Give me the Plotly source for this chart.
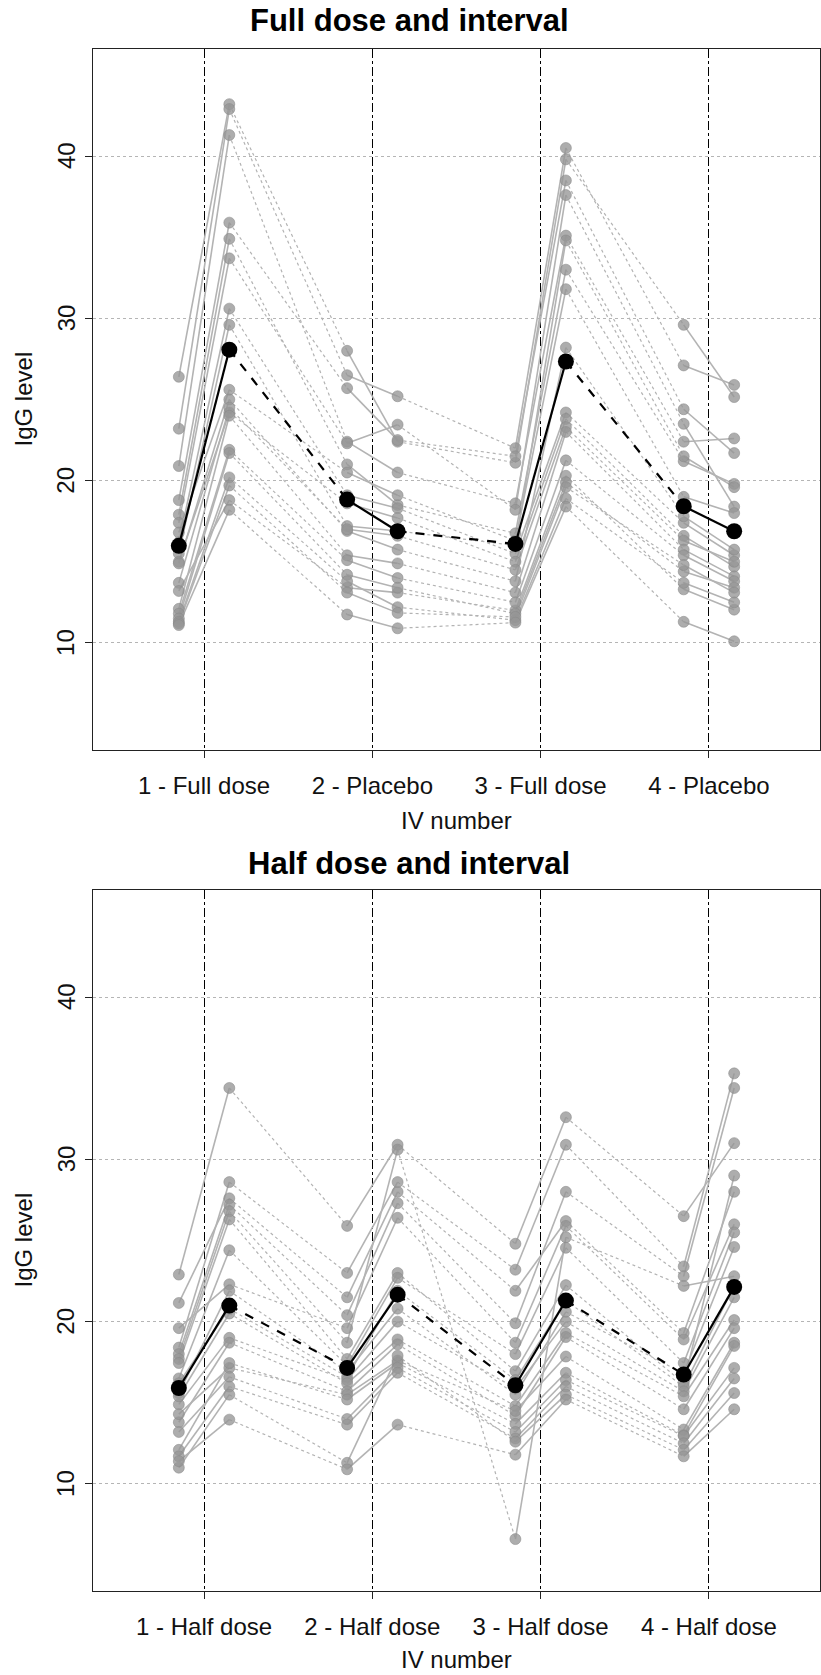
import plotly.graph_objects as go

# ---------------- data (IgG level) ----------------
IV_NUMBERS = [1, 2, 3, 4]
LABELS_FULL = ["1 - Full dose", "2 - Placebo", "3 - Full dose", "4 - Placebo"]
LABELS_HALF = ["1 - Half dose", "2 - Half dose", "3 - Half dose", "4 - Half dose"]
Y_TICKS = [10, 20, 30, 40]

# Full dose and interval arm (one entry per subject, same order in every list)
full_iv1_pre = [26.4, 23.2, 20.9, 18.8, 17.9, 17.4, 16.8, 16.2, 15.5, 15.0, 14.9, 13.7, 13.2, 12.1, 11.8, 11.5, 11.3, 11.2, 11.1]
full_iv1_post = [43.2, 42.9, 41.3, 35.9, 34.9, 33.7, 25.6, 30.6, 29.6, 24.2, 25.0, 24.5, 18.8, 24.0, 21.9, 21.7, 20.2, 19.7, 18.2]
full_iv2_pre = [28.0, 26.5, 22.4, 25.7, 21.0, 22.3, 20.5, 19.1, 17.2, 18.6, 16.9, 17.0, 13.4, 15.4, 15.1, 14.2, 13.8, 13.1, 11.75]
full_iv2_post = [22.4, 25.2, 20.5, 22.5, 18.5, 23.45, 19.1, 18.3, 16.9, 17.7, 15.75, 16.6, 13.1, 14.9, 14.0, 13.4, 12.2, 11.85, 10.9]
full_iv3_pre = [21.1, 22.0, 18.6, 21.5, 16.75, 18.2, 16.3, 15.5, 16.0, 15.0, 13.8, 14.5, 12.0, 13.1, 12.5, 11.8, 11.4, 11.6, 11.25]
full_iv3_post = [39.8, 40.5, 35.1, 38.5, 33.0, 37.6, 31.8, 24.2, 34.8, 23.8, 28.2, 23.3, 20.3, 23.0, 21.25, 19.9, 18.9, 19.6, 18.4]
full_iv4_pre = [29.6, 27.1, 22.4, 24.4, 21.2, 23.5, 19.0, 17.4, 21.5, 16.6, 17.8, 16.3, 13.3, 15.75, 15.4, 14.4, 13.7, 14.8, 11.3]
full_iv4_post = [25.15, 25.9, 22.6, 21.7, 19.8, 18.4, 18.0, 15.4, 19.6, 14.7, 15.75, 15.0, 12.05, 14.1, 13.8, 13.4, 12.5, 13.1, 10.1]
full_mean = [15.98, 28.07, 18.83, 16.88, 16.1, 27.34, 18.42, 16.88]

# Half dose and interval arm
half_iv1_pre = [22.9, 21.15, 18.4, 19.6, 18.0, 17.7, 17.45, 16.5, 15.6, 16.2, 14.9, 15.4, 13.8, 14.3, 12.1, 13.2, 11.7, 11.0, 11.4]
half_iv1_post = [34.4, 27.6, 28.6, 22.3, 27.2, 26.8, 26.3, 24.4, 21.9, 20.8, 19.0, 20.5, 18.7, 17.15, 17.45, 16.6, 16.0, 15.5, 13.96]
half_iv2_pre = [25.9, 21.5, 23.0, 19.6, 20.4, 18.7, 17.7, 17.3, 16.9, 16.6, 16.4, 16.2, 15.7, 15.5, 15.2, 14.0, 13.65, 11.3, 10.9]
half_iv2_post = [30.9, 28.0, 28.6, 26.4, 27.3, 30.6, 23.0, 22.7, 20.8, 21.9, 20.0, 18.9, 18.6, 17.6, 17.45, 17.15, 16.85, 17.9, 13.65]
half_iv3_pre = [24.8, 21.9, 23.2, 18.7, 19.9, 6.6, 16.95, 18.0, 15.5, 16.4, 15.9, 14.8, 14.2, 14.5, 13.7, 13.2, 12.8, 12.6, 11.8]
half_iv3_post = [32.6, 26.2, 30.9, 25.9, 28.0, 25.2, 22.25, 24.55, 20.6, 21.3, 20.0, 19.3, 19.05, 17.85, 16.85, 16.4, 16.0, 15.5, 15.2]
half_iv4_pre = [26.5, 19.3, 23.4, 18.9, 22.8, 22.2, 16.2, 17.45, 16.8, 16.0, 15.7, 15.4, 14.6, 13.35, 13.0, 12.95, 12.5, 12.1, 11.7]
half_iv4_post = [31.0, 28.0, 35.3, 26.0, 34.4, 22.8, 29.0, 25.5, 24.6, 22.2, 21.5, 20.1, 19.6, 18.7, 18.5, 17.15, 16.5, 15.6, 14.6]
half_mean = [15.91, 20.99, 17.15, 21.66, 16.08, 21.3, 16.74, 22.14]

PANELS = [
    dict(title="Full dose and interval", labels=LABELS_FULL, mean=full_mean,
         cols=[full_iv1_pre, full_iv1_post, full_iv2_pre, full_iv2_post,
               full_iv3_pre, full_iv3_post, full_iv4_pre, full_iv4_post]),
    dict(title="Half dose and interval", labels=LABELS_HALF, mean=half_mean,
         cols=[half_iv1_pre, half_iv1_post, half_iv2_pre, half_iv2_post,
               half_iv3_pre, half_iv3_post, half_iv4_pre, half_iv4_post]),
]

# ---------------- layout constants ----------------
W, H = 821, 1675
OFF = 0.15                     # pre / post offset around each IV
X_RANGE = [0.34, 4.66]
Y_RANGE = [3.4, 46.6]
PLOT_X = (93, 820)             # pixel extents of plot areas
PLOT_Y = [(49, 750), (890, 1591)]
TITLE_Y = [21, 863]
TITLE_X = 409
XLAB_Y = [821, 1659]
YTICKLAB_X = 66

GRAY_PT = "rgba(150,150,150,0.78)"
GRAY_LN = "#b3b3b3"
FONT = "Liberation Sans, Arial, Helvetica, sans-serif"


def px(x):
    return x / W


def py(y):
    return 1 - y / H


fig = go.Figure()
annotations = []

for i, p in enumerate(PANELS):
    ax = "" if i == 0 else str(i + 1)
    xref, yref = "x" + ax, "y" + ax
    cols = p["cols"]
    n = len(cols[0])
    xpos = []
    for iv in IV_NUMBERS:
        xpos += [iv - OFF, iv + OFF]

    sx, sy, dx, dy, mx, my = [], [], [], [], [], []
    for s in range(n):
        for k in range(4):
            sx += [xpos[2 * k], xpos[2 * k + 1], None]
            sy += [cols[2 * k][s], cols[2 * k + 1][s], None]
        for k in range(3):
            dx += [xpos[2 * k + 1], xpos[2 * k + 2], None]
            dy += [cols[2 * k + 1][s], cols[2 * k + 2][s], None]
        for c in range(8):
            mx.append(xpos[c])
            my.append(cols[c][s])

    fig.add_trace(go.Scatter(x=dx, y=dy, mode="lines", xaxis=xref, yaxis=yref,
                             line=dict(color=GRAY_LN, width=1.2, dash="dot"),
                             hoverinfo="skip", showlegend=False))
    fig.add_trace(go.Scatter(x=sx, y=sy, mode="lines", xaxis=xref, yaxis=yref,
                             line=dict(color=GRAY_LN, width=1.6),
                             hoverinfo="skip", showlegend=False))
    fig.add_trace(go.Scatter(x=mx, y=my, mode="markers", xaxis=xref, yaxis=yref,
                             marker=dict(size=11, color=GRAY_PT,
                                         line=dict(color="rgba(135,135,135,0.9)", width=0.6)),
                             showlegend=False))

    # mean profile
    m = p["mean"]
    msx, msy, mdx, mdy = [], [], [], []
    for k in range(4):
        msx += [xpos[2 * k], xpos[2 * k + 1], None]
        msy += [m[2 * k], m[2 * k + 1], None]
    for k in range(3):
        mdx += [xpos[2 * k + 1], xpos[2 * k + 2], None]
        mdy += [m[2 * k + 1], m[2 * k + 2], None]
    fig.add_trace(go.Scatter(x=mdx, y=mdy, mode="lines", xaxis=xref, yaxis=yref,
                             line=dict(color="black", width=2.2, dash="dash"),
                             showlegend=False))
    fig.add_trace(go.Scatter(x=msx, y=msy, mode="lines", xaxis=xref, yaxis=yref,
                             line=dict(color="black", width=2.2), showlegend=False))
    fig.add_trace(go.Scatter(x=xpos, y=m, mode="markers", xaxis=xref, yaxis=yref,
                             marker=dict(size=16, color="black"), showlegend=False))

    y0, y1 = PLOT_Y[i]
    fig.update_layout(**{
        "xaxis" + ax: dict(
            domain=[px(PLOT_X[0]), px(PLOT_X[1])], range=X_RANGE, anchor=yref,
            tickmode="array", tickvals=IV_NUMBERS, ticktext=p["labels"],
            ticks="outside", ticklen=7, tickcolor="#222", tickwidth=1,
            ticklabelstandoff=7,
            showline=True, mirror=True, linecolor="#222", linewidth=1.2,
            showgrid=True, gridcolor="black", gridwidth=1, griddash="dashdot",
            zeroline=False, fixedrange=True,
            tickfont=dict(size=24, color="#111", family=FONT)),
        "yaxis" + ax: dict(
            domain=[py(y1), py(y0)], range=Y_RANGE, anchor=xref,
            tickmode="array", tickvals=Y_TICKS, showticklabels=False,
            ticks="outside", ticklen=7, tickcolor="#222", tickwidth=1,
            showline=True, mirror=True, linecolor="#222", linewidth=1.2,
            showgrid=True, gridcolor="#b5b5b5", gridwidth=1, griddash="dot",
            zeroline=False, fixedrange=True),
    })

    # y tick labels (rotated, R style)
    for t in Y_TICKS:
        annotations.append(dict(text=str(t), x=px(YTICKLAB_X), y=t,
                                xref="paper", yref=yref, textangle=-90,
                                xanchor="center", yanchor="middle", showarrow=False,
                                font=dict(size=24, color="#111", family=FONT)))

    annotations.append(dict(text="<b>" + p["title"] + "</b>", x=px(TITLE_X),
                            y=py(TITLE_Y[i]), xref="paper", yref="paper",
                            xanchor="center", yanchor="middle", showarrow=False,
                            font=dict(size=31, color="black", family=FONT)))
    annotations.append(dict(text="IV number", x=px((PLOT_X[0] + PLOT_X[1]) / 2),
                            y=py(XLAB_Y[i]), xref="paper", yref="paper",
                            xanchor="center", yanchor="middle", showarrow=False,
                            font=dict(size=24, color="#111", family=FONT)))
    annotations.append(dict(text="IgG level", x=px(23), y=py((y0 + y1) / 2),
                            xref="paper", yref="paper", textangle=-90,
                            xanchor="center", yanchor="middle", showarrow=False,
                            font=dict(size=24, color="#111", family=FONT)))

fig.update_layout(width=W, height=H, margin=dict(l=0, r=0, t=0, b=0),
                  paper_bgcolor="white", plot_bgcolor="white",
                  annotations=annotations, showlegend=False,
                  font=dict(family=FONT))

fig.write_html("out.html", config={"displayModeBar": False},
               post_script="document.body.style.margin='0';document.body.style.overflow='hidden';")
